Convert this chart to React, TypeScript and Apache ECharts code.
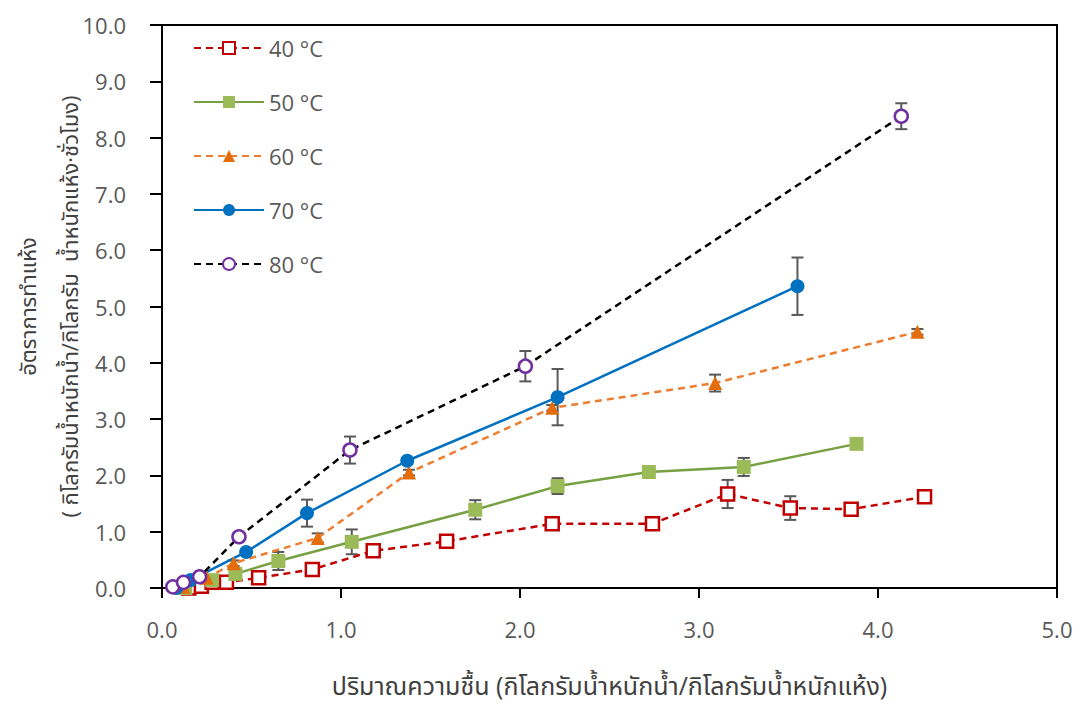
import React, { useEffect, useRef } from "react";
import * as echarts from "echarts";

const seriesNames = ["40 °C", "50 °C", "60 °C", "70 °C", "80 °C"];

const t40x = [0.15, 0.22, 0.28, 0.36, 0.54, 0.84, 1.18, 1.59, 2.18, 2.74, 3.16, 3.51, 3.85, 4.26];
const t40y = [0.0, 0.03, 0.1, 0.1, 0.18, 0.33, 0.66, 0.83, 1.14, 1.14, 1.67, 1.42, 1.4, 1.62];
const t40e = [0, 0, 0, 0, 0, 0, 0, 0, 0, 0, 0.25, 0.21, 0, 0];

const t50x = [0.13, 0.28, 0.41, 0.65, 1.06, 1.75, 2.21, 2.72, 3.25, 3.88];
const t50y = [0.0, 0.14, 0.25, 0.48, 0.82, 1.39, 1.81, 2.06, 2.15, 2.56];
const t50e = [0, 0, 0, 0.16, 0.22, 0.17, 0.14, 0, 0.16, 0];

const t60x = [0.12, 0.25, 0.4, 0.87, 1.38, 2.18, 3.09, 4.22];
const t60y = [0.02, 0.18, 0.44, 0.89, 2.05, 3.2, 3.64, 4.55];
const t60e = [0, 0, 0.05, 0.08, 0.05, 0.05, 0.15, 0.05];

const t70x = [0.08, 0.16, 0.47, 0.81, 1.37, 2.21, 3.55];
const t70y = [0.0, 0.14, 0.64, 1.33, 2.26, 3.39, 5.36];
const t70e = [0, 0, 0, 0.24, 0.05, 0.5, 0.51];

const t80x = [0.06, 0.12, 0.21, 0.43, 1.05, 2.03, 4.13];
const t80y = [0.02, 0.1, 0.2, 0.91, 2.45, 3.94, 8.38];
const t80e = [0, 0, 0, 0, 0.24, 0.27, 0.23];

const FONT = "'Open Sans', 'Noto Sans', 'Noto Sans Thai', sans-serif";

function pts(xs: number[], ys: number[]) {
  return xs.map((x, i) => [x, ys[i]]);
}
function errs(xs: number[], ys: number[], es: number[]) {
  const out: number[][] = [];
  xs.forEach((x, i) => {
    if (es[i] > 0) out.push([x, ys[i] - es[i], ys[i] + es[i]]);
  });
  return out;
}

export default function App() {
  const ref = useRef<HTMLDivElement>(null);
  useEffect(() => {
    if (!ref.current) return;
    const chart = echarts.init(ref.current, null, { renderer: "svg" });

    const errSeries = (data: number[][]) => ({
      type: "custom",
      z: 1,
      silent: true,
      data,
      encode: { x: 0, y: [1, 2] },
      renderItem: (params: any, api: any) => {
        const x = api.value(0);
        const lo = api.coord([x, api.value(1)]);
        const hi = api.coord([x, api.value(2)]);
        const c = 6;
        const style = { stroke: "#595959", lineWidth: 2 };
        return {
          type: "group",
          children: [
            { type: "line", shape: { x1: lo[0], y1: lo[1], x2: hi[0], y2: hi[1] }, style },
            { type: "line", shape: { x1: lo[0] - c, y1: lo[1], x2: lo[0] + c, y2: lo[1] }, style },
            { type: "line", shape: { x1: hi[0] - c, y1: hi[1], x2: hi[0] + c, y2: hi[1] }, style },
          ],
        };
      },
    });

    const option: any = {
      animation: false,
      backgroundColor: "#fff",
      grid: {
        left: 162,
        right: 24,
        top: 25,
        bottom: 116,
        outerBoundsMode: "none",
        containLabel: false,
        show: true,
        borderColor: "#000",
        borderWidth: 2,
        backgroundColor: "transparent",
      },
      legend: {
        data: seriesNames,
        orient: "vertical",
        left: 188,
        top: 32,
        itemWidth: 70,
        itemHeight: 15,
        itemGap: 32,
        textStyle: { fontFamily: FONT, fontSize: 22, color: "#595959", lineHeight: 22 },
      },
      xAxis: {
        type: "value",
        min: 0,
        max: 5,
        interval: 1,
        name: "ปริมาณความชื้น (กิโลกรัมน้ำหนักน้ำ/กิโลกรัมน้ำหนักแห้ง)",
        nameLocation: "middle",
        nameGap: 84,
        nameMoveOverlap: false,
        nameTextStyle: { fontFamily: FONT, fontSize: 25, color: "#404040", lineHeight: 26 },
        axisLine: { show: true, lineStyle: { color: "#000", width: 2 } },
        axisTick: { show: true, inside: false, length: 10, lineStyle: { color: "#000", width: 2 } },
        axisLabel: {
          margin: 30,
          fontFamily: FONT,
          fontSize: 22,
          color: "#595959",
          formatter: (v: number) => v.toFixed(1),
        },
        splitLine: { show: false },
      },
      yAxis: {
        type: "value",
        min: 0,
        max: 10,
        interval: 1,
        name: "อัตราการทำแห้ง\n( กิโลกรัมน้ำหนักน้ำ/กิโลกรัม  น้ำหนักแห้ง·ชั่วโมง)",
        nameLocation: "middle",
        nameRotate: 90,
        nameGap: 72,
        nameMoveOverlap: false,
        nameTextStyle: { fontFamily: FONT, fontSize: 22, color: "#404040", lineHeight: 42, align: "center" },
        axisLine: { show: true, lineStyle: { color: "#000", width: 2 } },
        axisTick: { show: true, inside: false, length: 12, lineStyle: { color: "#000", width: 2 } },
        axisLabel: {
          margin: 36,
          fontFamily: FONT,
          fontSize: 22,
          color: "#595959",
          formatter: (v: number) => v.toFixed(1),
        },
        splitLine: { show: false },
      },
      series: [
        errSeries(errs(t40x, t40y, t40e)),
        errSeries(errs(t50x, t50y, t50e)),
        errSeries(errs(t60x, t60y, t60e)),
        errSeries(errs(t70x, t70y, t70e)),
        errSeries(errs(t80x, t80y, t80e)),
        {
          name: seriesNames[0],
          type: "line",
          z: 3,
          data: pts(t40x, t40y),
          symbol: "rect",
          symbolSize: 13,
          lineStyle: { color: "#C00000", width: 2.5, type: [7, 5] },
          itemStyle: { color: "#fff", borderColor: "#C00000", borderWidth: 2.5 },
        },
        {
          name: seriesNames[1],
          type: "line",
          z: 3,
          data: pts(t50x, t50y),
          symbol: "rect",
          symbolSize: 14,
          lineStyle: { color: "#77A043", width: 2.5, type: "solid" },
          itemStyle: { color: "#9BBB59", borderColor: "#9BBB59", borderWidth: 0 },
        },
        {
          name: seriesNames[2],
          type: "line",
          z: 3,
          data: pts(t60x, t60y),
          symbol: "triangle",
          symbolSize: 14,
          lineStyle: { color: "#ED7D31", width: 2.5, type: [7, 5] },
          itemStyle: { color: "#E46C0A", borderColor: "#E46C0A", borderWidth: 0 },
        },
        {
          name: seriesNames[3],
          type: "line",
          z: 3,
          data: pts(t70x, t70y),
          symbol: "circle",
          symbolSize: 14,
          lineStyle: { color: "#0070C0", width: 2.5, type: "solid" },
          itemStyle: { color: "#0070C0", borderColor: "#0070C0", borderWidth: 0 },
        },
        {
          name: seriesNames[4],
          type: "line",
          z: 3,
          data: pts(t80x, t80y),
          symbol: "circle",
          symbolSize: 13,
          lineStyle: { color: "#000", width: 2.5, type: [7, 5] },
          itemStyle: { color: "#fff", borderColor: "#7030A0", borderWidth: 2.5 },
        },
      ],
    };
    chart.setOption(option);
    return () => chart.dispose();
  }, []);
  return (
    <div
      ref={ref}
      style={{ position: "fixed", left: 0, top: 0, width: 1081, height: 704, background: "#fff" }}
    />
  );
}
